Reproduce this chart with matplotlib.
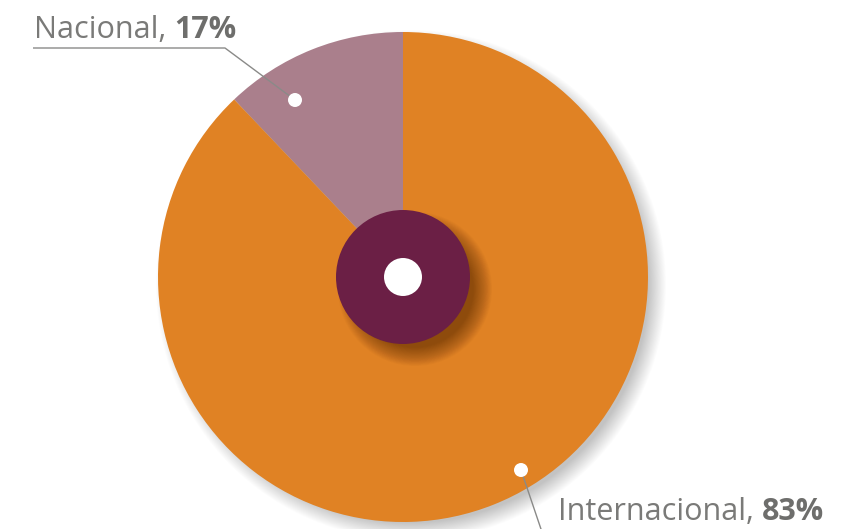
import numpy as np
import matplotlib
matplotlib.use("Agg")
import matplotlib.pyplot as plt
from matplotlib.patches import Circle

# values
categories = ["Nacional", "Internacional"]
label_pct = [17, 83]           # as printed on the chart
slice_share = [12.1, 87.9]     # share of the circle as drawn
colors = ["#AA7F8C", "#E08224"]
hub_color = "#6B1F45"
text_color = "#7A7A78"

W, H = 842, 529


def main():
    fig = plt.figure(figsize=(W / 100, H / 100), dpi=100)
    ax = fig.add_axes([0, 0, 1, 1])

    cx, cy, R = 403, H - 277, 245

    # soft drop shadow behind the pie
    for i in range(20):
        ax.add_patch(Circle((cx + 8, cy - 8), R + 10 - i * 0.9, color="#000000",
                            alpha=0.012, lw=0, zorder=0))

    ax.pie(slice_share, colors=colors, startangle=90, counterclock=True,
           center=(cx, cy), radius=R, wedgeprops=dict(linewidth=0))

    # shadow of the hub
    for i in range(24):
        ax.add_patch(Circle((cx + 12, cy - 12), 67 + 10 - i * 0.8, color="#3a1a00",
                            alpha=0.022, lw=0, zorder=3))
    ax.add_patch(Circle((cx, cy), 67, color=hub_color, lw=0, zorder=4))
    ax.add_patch(Circle((cx, cy), 19, color="white", lw=0, zorder=5))

    # leader lines and dots
    ax.plot([33, 225, 295], [H - 48, H - 48, H - 100], color="#8a8a88",
            lw=1, zorder=6, solid_capstyle="butt")
    ax.add_patch(Circle((295, H - 100), 7, color="white", lw=0, zorder=7))
    ax.plot([521, 543], [H - 470, H - 535], color="#8a8a88", lw=1, zorder=6)
    ax.add_patch(Circle((521, H - 470), 7, color="white", lw=0, zorder=7))

    ax.set_xlim(0, W)
    ax.set_ylim(0, H)
    ax.set_aspect("equal")
    ax.axis("off")

    fig.canvas.draw()
    r = fig.canvas.get_renderer()
    fam = ["Open Sans", "DejaVu Sans"]

    def two_part(x, y, a, b):
        t = ax.text(x, y, a, fontsize=22, color=text_color, family=fam,
                    va="baseline", ha="left", zorder=8)
        bb = t.get_window_extent(r)
        x1 = ax.transData.inverted().transform((bb.x1, bb.y0))[0]
        ax.text(x1, y, b, fontsize=22, color="#6E6E6C", family=fam,
                fontweight="bold", va="baseline", ha="left", zorder=8)

    two_part(34, H - 38, categories[0] + ", ", f"{label_pct[0]}%")
    two_part(558, H - 520, categories[1] + ", ", f"{label_pct[1]}%")

    fig.savefig("out.png", dpi=100)


if __name__ == "__main__":
    main()
